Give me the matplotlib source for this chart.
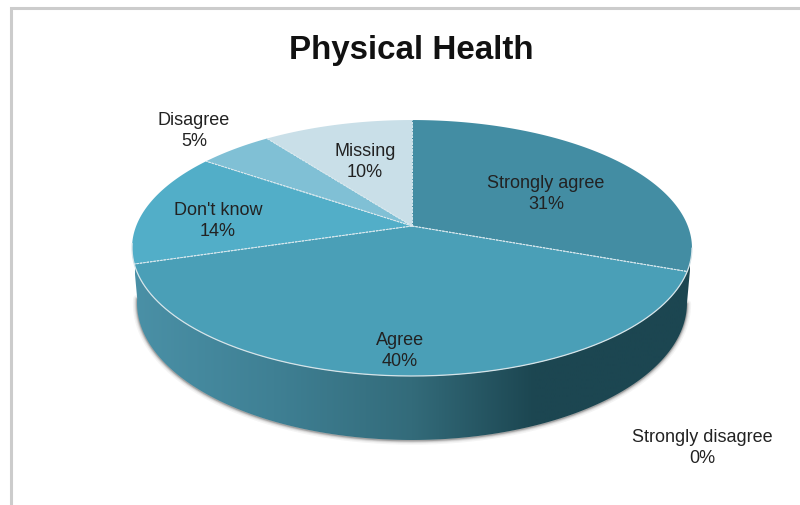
import numpy as np
import matplotlib
matplotlib.use("Agg")
import matplotlib.pyplot as plt
from matplotlib.colors import LinearSegmentedColormap
from matplotlib.patches import Polygon

title = "Physical Health"
categories = ["Strongly agree", "Agree", "Don't know", "Disagree", "Missing", "Strongly disagree"]
values = [30.6, 39.7, 14.4, 5.1, 10.2, 0]

colors = ["#438da3", "#4a9fb7", "#52aec8", "#80c0d5", "#c9dfe8", "#2f6472"]
label_xy = [(546, 194), (400, 351), (218, 221), (194, 131), (365, 162), (702, 448)]

plt.rcParams["font.family"] = ["Liberation Sans", "DejaVu Sans"]
fig = plt.figure(figsize=(8, 5.06), dpi=100, facecolor="white")
ax = fig.add_axes([0, 0, 1, 1])
ax.set_xlim(0, 800)
ax.set_ylim(506, 0)
ax.axis("off")

# perspective view of the pie's top disc
CX, CY, A, B, K = 412.0, 227.0, 124.2, 275.8, 0.172


def project(theta):
    u, v = np.sin(theta), np.cos(theta)
    w = 1 + K * v
    return CX + B * u / w, CY - A * v / w


def bottom(theta):
    x, y = project(theta)
    ys = 249 + (y - 249) * 137 / 128 + 55
    xs = 412 + (x - 412) * 275 / 280
    return xs, ys


# side wall: between front arc of the top disc and front arc of the lower disc
th = np.linspace(np.radians(100), np.radians(262), 400)
xt, yt = project(th)
xb, yb = bottom(th)
wall = np.column_stack([np.r_[xt, xb[::-1]], np.r_[yt, yb[::-1]]])

# soft shadow under the wall
for lw, al in [(6, 0.05), (4, 0.08), (2.5, 0.14), (1.2, 0.25)]:
    ax.plot(xb, yb + 0.6, color="#333333", lw=lw, alpha=al, solid_capstyle="round", zorder=1)

cmap = LinearSegmentedColormap.from_list(
    "wall",
    [(0.0, "#4a90a6"), (0.25, "#3f8094"), (0.5, "#336b7a"), (0.72, "#1c4651"), (1.0, "#1c4651")],
)
poly = Polygon(wall, closed=True, transform=ax.transData, fc="none", ec="none")
ax.add_patch(poly)
grad = np.linspace(0, 1, 256).reshape(1, -1)
im = ax.imshow(grad, extent=(135, 690, 506, 0), cmap=cmap, aspect="auto", zorder=2, interpolation="bilinear")
im.set_clip_path(poly)
ax.set_xlim(0, 800)
ax.set_ylim(506, 0)

# top slices, clockwise from 12 o'clock
fractions = np.array(values, dtype=float) / sum(values)
edges = np.r_[0, np.cumsum(fractions)] * 2 * np.pi
for i in range(len(values)):
    if values[i] == 0:
        continue
    t = np.linspace(edges[i], edges[i + 1], 200)
    x, y = project(t)
    ax.fill(np.r_[CX, x], np.r_[CY, y], color=colors[i], lw=0, zorder=3)
    for e in (edges[i], edges[i + 1]):
        ex, ey = project(e)
        ax.plot([CX, ex], [CY, ey], color="#d8e8ee", lw=0.7, ls=(0, (2.5, 1)), zorder=4)

tf = np.linspace(np.radians(100), np.radians(262), 300)
ax.plot(*project(tf), color="#d5e4e9", lw=0.9, zorder=4)

for cat, val, (lx, ly) in zip(categories, values, label_xy):
    ax.text(lx, ly, f"{cat}\n{round(val)}%", ha="center", va="center", fontsize=13,
            color="#222222", linespacing=1.33, zorder=5)

ax.text(411, 50, title, ha="center", va="center", fontsize=23.9, fontweight="bold", color="#111111", zorder=5)

# chart frame, cropped at right and bottom
ax.plot([10.5, 10.5, 800], [506, 8.5, 8.5], color="#cccccc", lw=2.2, solid_joinstyle="miter", zorder=6)

fig.savefig("out.png", dpi=100, facecolor="white")
